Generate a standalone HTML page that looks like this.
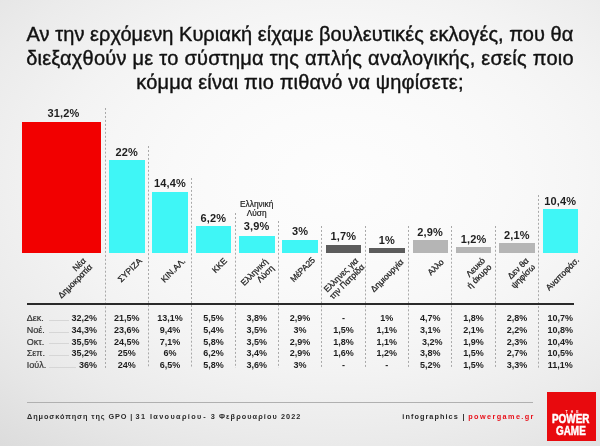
<!DOCTYPE html>
<html><head><meta charset="utf-8"><style>
*{margin:0;padding:0;box-sizing:border-box}
html,body{width:600px;height:446px;overflow:hidden}
body{position:relative;font-family:"Liberation Sans","DejaVu Sans",sans-serif;color:#1a1a1a;
background:radial-gradient(ellipse 335px 225px at 340px 180px,rgb(253,253,253) 0%,rgb(251,251,251) 30%,rgb(249,249,249) 50%,rgb(246,246,246) 70%,rgb(243,243,243) 85%,rgb(239,239,239) 100%,rgb(235,235,235) 115%,rgb(230,230,230) 130%,rgb(224,224,224) 145%,rgb(218,218,218) 160%,rgb(209,209,209) 180%);}
.a{position:absolute;white-space:nowrap}
.t{left:0;width:600px;text-align:center;font-size:20px;color:#111;line-height:23.65px;-webkit-text-stroke:0.4px #111}
.bar{position:absolute}
.v{position:absolute;text-align:center;font-weight:bold;font-size:11px;width:60px;color:#1e1e1e;letter-spacing:0.15px}
.sep{position:absolute;width:1px;background:linear-gradient(to bottom,#a8a8a8 50%,rgba(0,0,0,0) 50%);background-size:1px 3.975px}
.lb{position:absolute;font-size:8.5px;color:#222;-webkit-text-stroke:0.25px #222;text-align:right;transform:rotate(-45deg);transform-origin:100% 100%;line-height:9px}
.td{position:absolute;font-size:9px;font-weight:bold;text-align:center;width:44px;color:#1e1e1e}
.m{position:absolute;font-size:9px;color:#333;-webkit-text-stroke:0.2px #333}
.ld{position:absolute;height:1px;background:#d6d6d6}
.ft{position:absolute;font-size:7.3px;font-weight:bold;color:#2a2a2a;white-space:nowrap}
</style></head><body>

<div class="a t" style="top:22.20px;line-height:24px;letter-spacing:0.05px">Αν την ερχόμενη Κυριακή είχαμε βουλευτικές εκλογές, που θα</div>
<div class="a t" style="top:46.00px;line-height:24px;letter-spacing:0.25px">διεξαχθούν με το σύστημα της απλής αναλογικής, εσείς ποιο</div>
<div class="a t" style="top:69.80px;line-height:24px;letter-spacing:0.15px">κόμμα είναι πιο πιθανό να ψηφίσετε;</div>
<div class="sep" style="left:104.5px;top:107.5px;height:260.5px"></div>
<div class="sep" style="left:147.8px;top:146.3px;height:221.7px"></div>
<div class="sep" style="left:191.2px;top:177.6px;height:190.4px"></div>
<div class="sep" style="left:234.5px;top:213.0px;height:155.0px"></div>
<div class="sep" style="left:277.9px;top:221.4px;height:146.6px"></div>
<div class="sep" style="left:321.3px;top:225.8px;height:142.2px"></div>
<div class="sep" style="left:364.6px;top:225.8px;height:142.2px"></div>
<div class="sep" style="left:408.0px;top:225.8px;height:142.2px"></div>
<div class="sep" style="left:451.4px;top:225.8px;height:142.2px"></div>
<div class="sep" style="left:494.7px;top:225.8px;height:142.2px"></div>
<div class="sep" style="left:538.1px;top:195.2px;height:172.8px"></div>
<div class="bar" style="left:22.0px;top:122.0px;width:79.3px;height:131.0px;background:#f20000"></div>
<div class="v" id="v0" style="left:33.5px;top:107.1px;line-height:12px">31,2%</div>
<div class="bar" style="left:109.0px;top:160.0px;width:35.5px;height:93.0px;background:#3ff6f6"></div>
<div class="v" id="v1" style="left:96.7px;top:145.6px;line-height:12px">22%</div>
<div class="bar" style="left:152.3px;top:192.0px;width:35.5px;height:61.0px;background:#3ff6f6"></div>
<div class="v" id="v2" style="left:140.0px;top:177.0px;line-height:12px">14,4%</div>
<div class="bar" style="left:195.7px;top:226.0px;width:35.5px;height:27.0px;background:#3ff6f6"></div>
<div class="v" id="v3" style="left:183.4px;top:212.0px;line-height:12px">6,2%</div>
<div class="bar" style="left:239.0px;top:236.0px;width:35.5px;height:17.0px;background:#3ff6f6"></div>
<div class="v" id="v4" style="left:226.7px;top:219.6px;line-height:12px">3,9%</div>
<div class="bar" style="left:282.4px;top:240.0px;width:35.5px;height:13.0px;background:#3ff6f6"></div>
<div class="v" id="v5" style="left:270.1px;top:225.3px;line-height:12px">3%</div>
<div class="bar" style="left:325.8px;top:245.0px;width:35.5px;height:8.0px;background:#5c5c5c"></div>
<div class="v" id="v6" style="left:313.4px;top:230.3px;line-height:12px">1,7%</div>
<div class="bar" style="left:369.1px;top:248.0px;width:35.5px;height:5.0px;background:#5c5c5c"></div>
<div class="v" id="v7" style="left:356.8px;top:233.9px;line-height:12px">1%</div>
<div class="bar" style="left:412.5px;top:240.0px;width:35.5px;height:13.0px;background:#b5b5b5"></div>
<div class="v" id="v8" style="left:400.2px;top:226.3px;line-height:12px">2,9%</div>
<div class="bar" style="left:455.9px;top:247.0px;width:35.5px;height:6.0px;background:#b5b5b5"></div>
<div class="v" id="v9" style="left:443.5px;top:233.0px;line-height:12px">1,2%</div>
<div class="bar" style="left:499.2px;top:243.0px;width:35.5px;height:10.0px;background:#b5b5b5"></div>
<div class="v" id="v10" style="left:486.9px;top:229.0px;line-height:12px">2,1%</div>
<div class="bar" style="left:542.6px;top:209.0px;width:35.5px;height:44.0px;background:#3ff6f6"></div>
<div class="v" id="v11" style="left:530.2px;top:194.5px;line-height:12px">10,4%</div>
<div class="a" id="el" style="left:226.7px;width:60px;text-align:center;top:199.6px;font-size:8.3px;line-height:9.8px;color:#222;-webkit-text-stroke:0.2px #222">Ελληνική<br>Λύση</div>
<div class="lb" id="lb0" style="right:505.60px;bottom:176.65px">Νέα<br>Δημοκρατία</div>
<div class="lb" id="lb1" style="right:456.55px;bottom:183.35px">ΣΥΡΙΖΑ</div>
<div class="lb" id="lb2" style="right:412.95px;bottom:183.25px">ΚΙΝ.ΑΛ.</div>
<div class="lb" id="lb3" style="right:370.55px;bottom:183.00px">ΚΚΕ</div>
<div class="lb" id="lb4" style="right:324.15px;bottom:175.55px">Ελληνική<br>Λύση</div>
<div class="lb" id="lb5" style="right:283.05px;bottom:184.00px">ΜέΡΑ25</div>
<div class="lb" id="lb6" style="right:233.50px;bottom:176.90px">Ελληνες για<br>την Πατρίδα</div>
<div class="lb" id="lb7" style="right:194.30px;bottom:182.50px">Δημιουργία</div>
<div class="lb" id="lb8" style="right:154.40px;bottom:182.15px">Αλλο</div>
<div class="lb" id="lb9" style="right:106.20px;bottom:176.70px">Λευκό<br>ή άκυρο</div>
<div class="lb" id="lb10" style="right:62.95px;bottom:176.75px">Δεν θα<br>ψηφίσω</div>
<div class="lb" id="lb11" style="right:18.80px;bottom:184.25px">Αναποφάσ.</div>
<div class="a" id="tl" style="left:26.8px;top:303px;width:547px;height:1.6px;background:#2a2a2a"></div>
<div class="m" style="left:26.8px;top:313.0px;line-height:10px">Δεκ.</div>
<div class="ld" style="left:49px;width:20px;top:319.7px"></div>
<div class="td" style="left:47px;width:50px;text-align:right;top:313.0px;line-height:10px">32,2%</div>
<div class="td" style="left:104.7px;top:313.0px;line-height:10px">21,5%</div>
<div class="td" style="left:148.0px;top:313.0px;line-height:10px">13,1%</div>
<div class="td" style="left:191.4px;top:313.0px;line-height:10px">5,5%</div>
<div class="td" style="left:234.7px;top:313.0px;line-height:10px">3,8%</div>
<div class="td" style="left:278.1px;top:313.0px;line-height:10px">2,9%</div>
<div class="td" style="left:321.4px;top:313.0px;line-height:10px">-</div>
<div class="td" style="left:364.8px;top:313.0px;line-height:10px">1%</div>
<div class="td" style="left:408.2px;top:313.0px;line-height:10px">4,7%</div>
<div class="td" style="left:451.5px;top:313.0px;line-height:10px">1,8%</div>
<div class="td" style="left:494.9px;top:313.0px;line-height:10px">2,8%</div>
<div class="td" style="left:538.2px;top:313.0px;line-height:10px">10,7%</div>
<div class="m" style="left:26.8px;top:324.8px;line-height:10px">Νοέ.</div>
<div class="ld" style="left:49px;width:20px;top:331.5px"></div>
<div class="td" style="left:47px;width:50px;text-align:right;top:324.8px;line-height:10px">34,3%</div>
<div class="td" style="left:104.7px;top:324.8px;line-height:10px">23,6%</div>
<div class="td" style="left:148.0px;top:324.8px;line-height:10px">9,4%</div>
<div class="td" style="left:191.4px;top:324.8px;line-height:10px">5,4%</div>
<div class="td" style="left:234.7px;top:324.8px;line-height:10px">3,5%</div>
<div class="td" style="left:278.1px;top:324.8px;line-height:10px">3%</div>
<div class="td" style="left:321.4px;top:324.8px;line-height:10px">1,5%</div>
<div class="td" style="left:364.8px;top:324.8px;line-height:10px">1,1%</div>
<div class="td" style="left:408.2px;top:324.8px;line-height:10px">3,1%</div>
<div class="td" style="left:451.5px;top:324.8px;line-height:10px">2,1%</div>
<div class="td" style="left:494.9px;top:324.8px;line-height:10px">2,2%</div>
<div class="td" style="left:538.2px;top:324.8px;line-height:10px">10,8%</div>
<div class="m" style="left:26.8px;top:336.6px;line-height:10px">Οκτ.</div>
<div class="ld" style="left:49px;width:20px;top:343.3px"></div>
<div class="td" style="left:47px;width:50px;text-align:right;top:336.6px;line-height:10px">35,5%</div>
<div class="td" style="left:104.7px;top:336.6px;line-height:10px">24,5%</div>
<div class="td" style="left:148.0px;top:336.6px;line-height:10px">7,1%</div>
<div class="td" style="left:191.4px;top:336.6px;line-height:10px">5,8%</div>
<div class="td" style="left:234.7px;top:336.6px;line-height:10px">3,5%</div>
<div class="td" style="left:278.1px;top:336.6px;line-height:10px">2,9%</div>
<div class="td" style="left:321.4px;top:336.6px;line-height:10px">1,8%</div>
<div class="td" style="left:364.8px;top:336.6px;line-height:10px">1,1%</div>
<div class="td" style="left:410.2px;top:336.6px;line-height:10px">3,2%</div>
<div class="td" style="left:451.5px;top:336.6px;line-height:10px">1,9%</div>
<div class="td" style="left:494.9px;top:336.6px;line-height:10px">2,3%</div>
<div class="td" style="left:538.2px;top:336.6px;line-height:10px">10,4%</div>
<div class="m" style="left:26.8px;top:348.4px;line-height:10px">Σεπ.</div>
<div class="ld" style="left:49px;width:20px;top:355.1px"></div>
<div class="td" style="left:47px;width:50px;text-align:right;top:348.4px;line-height:10px">35,2%</div>
<div class="td" style="left:104.7px;top:348.4px;line-height:10px">25%</div>
<div class="td" style="left:148.0px;top:348.4px;line-height:10px">6%</div>
<div class="td" style="left:191.4px;top:348.4px;line-height:10px">6,2%</div>
<div class="td" style="left:234.7px;top:348.4px;line-height:10px">3,4%</div>
<div class="td" style="left:278.1px;top:348.4px;line-height:10px">2,9%</div>
<div class="td" style="left:321.4px;top:348.4px;line-height:10px">1,6%</div>
<div class="td" style="left:364.8px;top:348.4px;line-height:10px">1,2%</div>
<div class="td" style="left:408.2px;top:348.4px;line-height:10px">3,8%</div>
<div class="td" style="left:451.5px;top:348.4px;line-height:10px">1,5%</div>
<div class="td" style="left:494.9px;top:348.4px;line-height:10px">2,7%</div>
<div class="td" style="left:538.2px;top:348.4px;line-height:10px">10,5%</div>
<div class="m" style="left:26.8px;top:360.2px;line-height:10px">Ιούλ.</div>
<div class="ld" style="left:49px;width:27px;top:366.9px"></div>
<div class="td" style="left:47px;width:50px;text-align:right;top:360.2px;line-height:10px">36%</div>
<div class="td" style="left:104.7px;top:360.2px;line-height:10px">24%</div>
<div class="td" style="left:148.0px;top:360.2px;line-height:10px">6,5%</div>
<div class="td" style="left:191.4px;top:360.2px;line-height:10px">5,8%</div>
<div class="td" style="left:234.7px;top:360.2px;line-height:10px">3,6%</div>
<div class="td" style="left:278.1px;top:360.2px;line-height:10px">3%</div>
<div class="td" style="left:321.4px;top:360.2px;line-height:10px">-</div>
<div class="td" style="left:364.8px;top:360.2px;line-height:10px">-</div>
<div class="td" style="left:408.2px;top:360.2px;line-height:10px">5,2%</div>
<div class="td" style="left:451.5px;top:360.2px;line-height:10px">1,5%</div>
<div class="td" style="left:494.9px;top:360.2px;line-height:10px">3,3%</div>
<div class="td" style="left:538.2px;top:360.2px;line-height:10px">11,1%</div>
<div class="a" style="left:27px;top:402px;width:506px;height:1px;background:#b0b0b0"></div>
<div class="ft" id="f0" style="left:27px;top:412px;line-height:9px;letter-spacing:0.92px;color:#2a2a2a">Δημοσκόπηση της GPO</div>
<div class="ft" id="f1" style="left:130.2px;top:412px;line-height:9px;letter-spacing:0px;color:#2a2a2a">|</div>
<div class="ft" id="f2" style="left:135.6px;top:412px;line-height:9px;letter-spacing:1.38px;color:#2a2a2a">31 Ιανουαρίου</div>
<div class="ft" id="f3" style="left:203.3px;top:412px;line-height:9px;letter-spacing:0px;color:#2a2a2a">-</div>
<div class="ft" id="f4" style="left:210.7px;top:412px;line-height:9px;letter-spacing:1.09px;color:#2a2a2a">3 Φεβρουαρίου 2022</div>
<div class="ft" id="f5" style="left:402.3px;top:412px;line-height:9px;letter-spacing:1.06px;color:#2a2a2a">infographics</div>
<div class="ft" id="f6" style="left:462.5px;top:412px;line-height:9px;letter-spacing:0px;color:#2a2a2a">|</div>
<div class="ft" id="f7" style="left:468.2px;top:412px;line-height:9px;letter-spacing:1.4px;color:#e8101a">powergame.gr</div>
<div class="a" style="left:547px;top:392px;width:49px;height:49px;background:#e80a0e"></div>
<div class="a" id="lgT" style="left:565.6px;top:409.6px;width:12px;color:#fff;font-size:3.4px;line-height:4px;font-weight:bold;letter-spacing:3.1px">THE</div>
<div class="a" id="lgP" style="left:552.4px;top:412.1px;color:#fff;font-size:12.4px;line-height:14px;font-weight:bold;transform:scaleX(0.8);transform-origin:0 0;-webkit-text-stroke:0.5px #fff;letter-spacing:0px">POWER</div>
<div class="a" id="lgG" style="left:556px;top:423.5px;color:#fff;font-size:12.4px;line-height:14px;font-weight:bold;transform:scaleX(0.8);transform-origin:0 0;-webkit-text-stroke:0.5px #fff">GAME</div>

</body></html>
